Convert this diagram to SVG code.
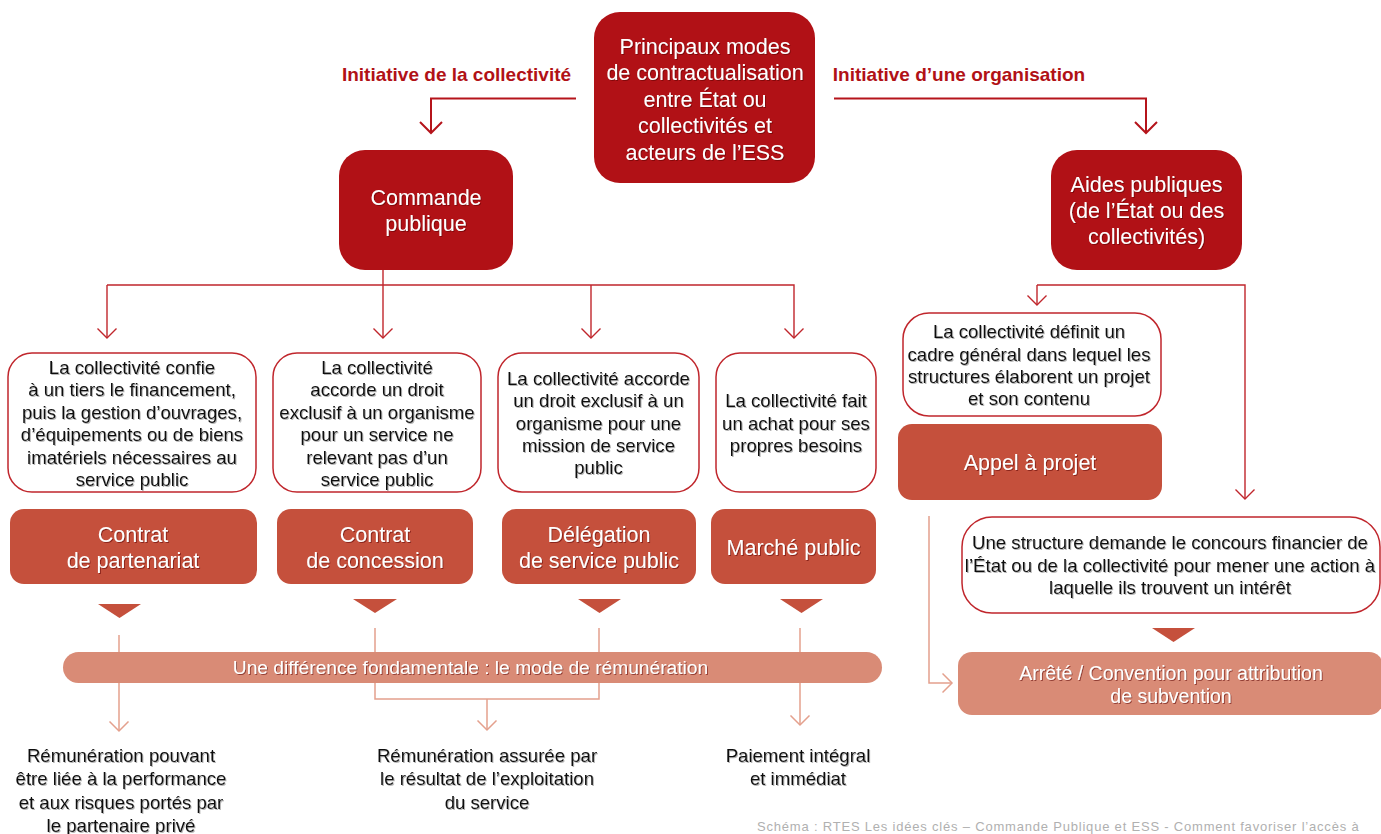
<svg xmlns="http://www.w3.org/2000/svg" width="1381" height="834" viewBox="0 0 1381 834">
<defs>
<style>
.dark{fill:#b11116}
.mid{fill:#c5503c}
.light{fill:#d98b76}
.wbox{fill:#ffffff;stroke:#c0262c;stroke-width:1.5}
.wt{font-family:"Liberation Sans",Arial,sans-serif;fill:#ffffff;text-anchor:middle;filter:url(#sw)}
.bt{font-family:"Liberation Sans",Arial,sans-serif;fill:#111111;text-anchor:middle;font-size:18.6px;filter:url(#sb)}
.lbl{font-family:"Liberation Sans",Arial,sans-serif;fill:#b11116;font-weight:bold;font-size:19px}
.c1{fill:none;stroke:#b5141b;stroke-width:2}
.c2{fill:none;stroke:#c0262c;stroke-width:1.4}
.c3{fill:none;stroke:#e4a08d;stroke-width:1.5}
.tri{fill:#c5503c}
</style>
<filter id="sw" x="-10%" y="-30%" width="120%" height="160%"><feDropShadow dx="1" dy="1" stdDeviation="0.4" flood-color="#5a0000" flood-opacity="0.55"/></filter>
<filter id="sb" x="-10%" y="-30%" width="120%" height="160%"><feDropShadow dx="1" dy="1" stdDeviation="0.4" flood-color="#777777" flood-opacity="0.55"/></filter>
<marker id="m1" markerUnits="userSpaceOnUse" markerWidth="14" markerHeight="24" refX="12" refY="12" orient="auto" viewBox="0 0 14 24"><path d="M1,1 L12,12 L1,23" fill="none" stroke="#b5141b" stroke-width="2"/></marker>
<marker id="m2" markerUnits="userSpaceOnUse" markerWidth="12" markerHeight="22" refX="10.5" refY="11" orient="auto" viewBox="0 0 12 22"><path d="M1,1.5 L10.5,11 L1,20.5" fill="none" stroke="#c0262c" stroke-width="1.4"/></marker>
<marker id="m3" markerUnits="userSpaceOnUse" markerWidth="12" markerHeight="22" refX="10.5" refY="11" orient="auto" viewBox="0 0 12 22"><path d="M1,1.5 L10.5,11 L1,20.5" fill="none" stroke="#e4a08d" stroke-width="1.5"/></marker>
</defs>
<rect width="1381" height="834" fill="#ffffff"/>

<g id="connectors">
<path class="c1" d="M576,98.5 H431 V133" marker-end="url(#m1)"/>
<path class="c1" d="M834,98.5 H1146 V133" marker-end="url(#m1)"/>
<path class="c2" d="M383,270 V285"/>
<path class="c2" d="M107,285 H794 V338" marker-end="url(#m2)"/>
<path class="c2" d="M107,285 V338" marker-end="url(#m2)"/>
<path class="c2" d="M383,285 V338" marker-end="url(#m2)"/>
<path class="c2" d="M591,285 V338" marker-end="url(#m2)"/>
<path class="c2" d="M1037,285 H1245 V499" marker-end="url(#m2)"/>
<path class="c2" d="M1037,285 V305" marker-end="url(#m2)"/>
<path class="c3" d="M929,516 V683 H952" marker-end="url(#m3)"/>
<path class="c3" d="M119,635 V731" marker-end="url(#m3)"/>
<path class="c3" d="M375,628 V699 H599 V628"/>
<path class="c3" d="M487,699 V730" marker-end="url(#m3)"/>
<path class="c3" d="M800,628 V725" marker-end="url(#m3)"/>
</g>

<g id="label-left"><text class="lbl" x="456.5" y="81" text-anchor="middle">Initiative de la collectivité</text></g>
<g id="label-right"><text class="lbl" x="959" y="81" text-anchor="middle">Initiative d’une organisation</text></g>

<g id="n-top">
<rect class="dark" x="594" y="12" width="221" height="171" rx="26"/>
<text class="wt" font-size="21.5"><tspan x="705" y="53.5">Principaux modes</tspan><tspan x="705" y="80">de contractualisation</tspan><tspan x="705" y="106.5">entre État ou</tspan><tspan x="705" y="133">collectivités et</tspan><tspan x="705" y="159.5">acteurs de l’ESS</tspan></text>
</g>

<g id="n-commande">
<rect class="dark" x="339" y="150" width="174" height="120" rx="26"/>
<text class="wt" font-size="21.5"><tspan x="426" y="205">Commande</tspan><tspan x="426" y="231">publique</tspan></text>
</g>

<g id="n-aides">
<rect class="dark" x="1051" y="150" width="191" height="120" rx="26"/>
<text class="wt" font-size="21.5"><tspan x="1146.5" y="191.5">Aides publiques</tspan><tspan x="1146.5" y="218">(de l’État ou des</tspan><tspan x="1146.5" y="244">collectivités)</tspan></text>
</g>

<g id="n-w1">
<rect class="wbox" x="8" y="353" width="248" height="139" rx="24"/>
<text class="bt"><tspan x="132" y="373.5">La collectivité confie</tspan><tspan x="132" y="396">à un tiers le financement,</tspan><tspan x="132" y="418.5">puis la gestion d’ouvrages,</tspan><tspan x="132" y="441">d’équipements ou de biens</tspan><tspan x="132" y="463.5">imatériels nécessaires au</tspan><tspan x="132" y="486">service public</tspan></text>
</g>

<g id="n-w2">
<rect class="wbox" x="273" y="353" width="208" height="139" rx="24"/>
<text class="bt"><tspan x="377" y="373.5">La collectivité</tspan><tspan x="377" y="396">accorde un droit</tspan><tspan x="377" y="418.5">exclusif à un organisme</tspan><tspan x="377" y="441">pour un service ne</tspan><tspan x="377" y="463.5">relevant pas d’un</tspan><tspan x="377" y="486">service public</tspan></text>
</g>

<g id="n-w3">
<rect class="wbox" x="498" y="353" width="201" height="139" rx="24"/>
<text class="bt"><tspan x="598.5" y="385">La collectivité accorde</tspan><tspan x="598.5" y="407">un droit exclusif à un</tspan><tspan x="598.5" y="429.5">organisme pour une</tspan><tspan x="598.5" y="452">mission de service</tspan><tspan x="598.5" y="474">public</tspan></text>
</g>

<g id="n-w4">
<rect class="wbox" x="716" y="353" width="160" height="139" rx="24"/>
<text class="bt"><tspan x="796" y="407">La collectivité fait</tspan><tspan x="796" y="429.5">un achat pour ses</tspan><tspan x="796" y="452">propres besoins</tspan></text>
</g>

<g id="n-r1">
<rect class="mid" x="10" y="509" width="247" height="75" rx="14"/>
<text class="wt" font-size="21.5"><tspan x="133" y="541.5">Contrat</tspan><tspan x="133" y="568">de partenariat</tspan></text>
</g>
<g id="n-r2">
<rect class="mid" x="277" y="509" width="196" height="75" rx="14"/>
<text class="wt" font-size="21.5"><tspan x="375" y="541.5">Contrat</tspan><tspan x="375" y="568">de concession</tspan></text>
</g>
<g id="n-r3">
<rect class="mid" x="502" y="509" width="194" height="75" rx="14"/>
<text class="wt" font-size="21.5"><tspan x="599" y="541.5">Délégation</tspan><tspan x="599" y="568">de service public</tspan></text>
</g>
<g id="n-r4">
<rect class="mid" x="711" y="509" width="165" height="75" rx="14"/>
<text class="wt" font-size="21.5"><tspan x="793.5" y="555">Marché public</tspan></text>
</g>

<g id="triangles">
<polygon class="tri" points="98,604 141,604 119.5,618"/>
<polygon class="tri" points="353,599 397,599 375,613"/>
<polygon class="tri" points="578,599 621,599 599.5,613"/>
<polygon class="tri" points="780,599 823,599 801.5,613"/>
<polygon class="tri" points="1152,628 1195,628 1173.5,642"/>
</g>

<g id="n-bar">
<rect class="light" x="63" y="652" width="819" height="31" rx="15.5"/>
<text class="wt" font-size="19.2" x="470.5" y="674">Une différence fondamentale : le mode de rémunération</text>
</g>

<g id="n-res1">
<text class="bt" font-size="20"><tspan x="121" y="761.5">Rémunération pouvant</tspan><tspan x="121" y="785">être liée à la performance</tspan><tspan x="121" y="808.5">et aux risques portés par</tspan><tspan x="121" y="831.5">le partenaire privé</tspan></text>
</g>
<g id="n-res2">
<text class="bt" font-size="20"><tspan x="487" y="761.5">Rémunération assurée par</tspan><tspan x="487" y="785">le résultat de l’exploitation</tspan><tspan x="487" y="808.5">du service</tspan></text>
</g>
<g id="n-res3">
<text class="bt" font-size="20"><tspan x="798" y="761.5">Paiement intégral</tspan><tspan x="798" y="785">et immédiat</tspan></text>
</g>

<g id="n-wr1">
<rect class="wbox" x="903" y="313" width="258" height="103" rx="26"/>
<text class="bt"><tspan x="1029" y="338">La collectivité définit un</tspan><tspan x="1029" y="360.5">cadre général dans lequel les</tspan><tspan x="1029" y="383">structures élaborent un projet</tspan><tspan x="1029" y="405">et son contenu</tspan></text>
</g>

<g id="n-appel">
<rect class="mid" x="898" y="424" width="264" height="76" rx="14"/>
<text class="wt" font-size="21.5" x="1030" y="470">Appel à projet</text>
</g>

<g id="n-wr2">
<rect class="wbox" x="962" y="517" width="418" height="96" rx="30"/>
<text class="bt" font-size="18.7"><tspan x="1170" y="549">Une structure demande le concours financier de</tspan><tspan x="1170" y="572">l’État ou de la collectivité pour mener une action à</tspan><tspan x="1170" y="594">laquelle ils trouvent un intérêt</tspan></text>
</g>

<g id="n-arrete">
<rect class="light" x="958" y="652" width="425" height="63" rx="14"/>
<text class="wt" font-size="19.5"><tspan x="1171" y="679.5">Arrêté / Convention pour attribution</tspan><tspan x="1171" y="703">de subvention</tspan></text>
</g>

<g id="footer">
<text x="757" y="831" font-family="'Liberation Sans',Arial,sans-serif" font-size="13" letter-spacing="0.8" fill="#b0b0b0">Schéma : RTES Les idées clés – Commande Publique et ESS - Comment favoriser l’accès à</text>
</g>
</svg>
